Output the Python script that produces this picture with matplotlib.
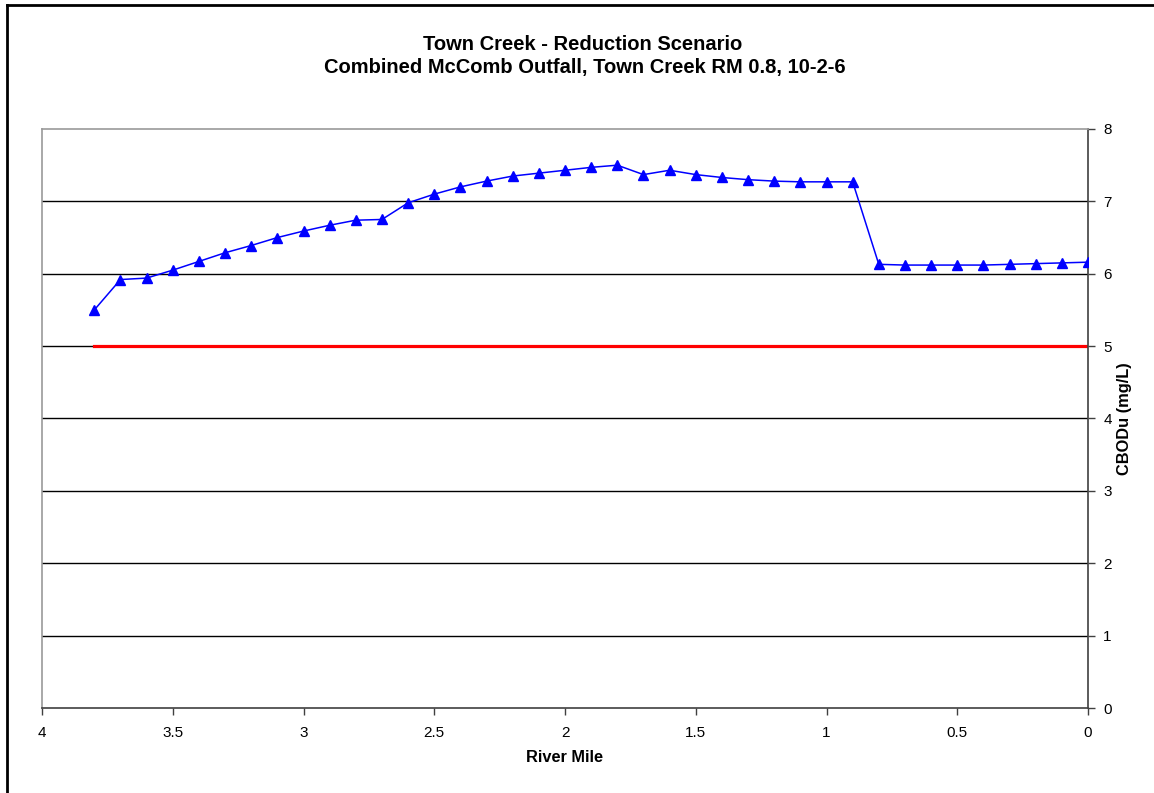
import matplotlib
matplotlib.use("Agg")
import matplotlib.pyplot as plt
from matplotlib.lines import Line2D

plt.rcParams['font.family'] = ['Liberation Sans', 'DejaVu Sans']

# river mile and modelled CBODu (mg/L)
river_mile = [3.8, 3.7, 3.6, 3.5, 3.4, 3.3, 3.2, 3.1, 3.0, 2.9, 2.8, 2.7,
              2.6, 2.5, 2.4, 2.3, 2.2, 2.1, 2.0, 1.9, 1.8, 1.7, 1.6, 1.5,
              1.4, 1.3, 1.2, 1.1, 1.0, 0.9, 0.8, 0.7, 0.6, 0.5, 0.4, 0.3,
              0.2, 0.1, 0.0]
cbodu = [5.50, 5.92, 5.94, 6.05, 6.17, 6.29, 6.39, 6.50, 6.59, 6.67, 6.74, 6.75,
         6.98, 7.10, 7.20, 7.28, 7.35, 7.39, 7.43, 7.47, 7.50, 7.37, 7.43, 7.37,
         7.33, 7.30, 7.28, 7.27, 7.27, 7.27, 6.13, 6.12, 6.12, 6.12, 6.12, 6.13,
         6.14, 6.15, 6.16]

# standard line
std_x = [3.8, 0.0]
std_y = [5, 5]

x_ticks = [4, 3.5, 3, 2.5, 2, 1.5, 1, 0.5, 0]
x_labels = ['4', '3.5', '3', '2.5', '2', '1.5', '1', '0.5', '0']
y_ticks = [0, 1, 2, 3, 4, 5, 6, 7, 8]

fig = plt.figure(figsize=(11.54, 7.93), dpi=100)
ax = fig.add_axes([42 / 1154, 1 - 708 / 793, (1088 - 42) / 1154, (708 - 129) / 793])

for y in y_ticks[1:-1]:
    ax.axhline(y, color='black', linewidth=1, zorder=1)

ax.plot(std_x, std_y, color='#ff0000', linewidth=2.3, zorder=2)
ax.plot(river_mile, cbodu, color='#0000ff', linewidth=1.1, marker='^',
        markersize=7, markerfacecolor='#0000ff', markeredgecolor='#0000ff', zorder=3)

ax.set_xlim(4, 0)
ax.set_ylim(0, 8)
ax.set_xticks(x_ticks)
ax.set_xticklabels(x_labels)
ax.set_yticks(y_ticks)
ax.yaxis.tick_right()
ax.yaxis.set_label_position('right')
ax.tick_params(axis='both', labelsize=11, direction='out', length=5, width=1,
               colors='#404040', labelcolor='black')
ax.tick_params(axis='x', pad=8)
ax.tick_params(axis='y', pad=6)

ax.spines['left'].set_color('#999999')
ax.spines['top'].set_color('#999999')
ax.spines['bottom'].set_color('#404040')
ax.spines['right'].set_color('#404040')
for s in ax.spines.values():
    s.set_linewidth(1.2)

ax.set_xlabel('River Mile', fontsize=11.8, fontweight='bold', labelpad=7)
ax.set_ylabel('CBODu (mg/L)', fontsize=11.8, fontweight='bold', labelpad=4)

fig.text(583 / 1154, 1 - 45 / 793, 'Town Creek - Reduction Scenario',
         ha='center', va='center', fontsize=14.5, fontweight='bold')
fig.text(585 / 1154, 1 - 67 / 793, 'Combined McComb Outfall, Town Creek RM 0.8, 10-2-6',
         ha='center', va='center', fontsize=14.5, fontweight='bold')

# outer chart border
fig.add_artist(Line2D([7 / 1154, 7 / 1154], [0, 1 - 5 / 793], transform=fig.transFigure,
                      color='black', linewidth=2))
fig.add_artist(Line2D([7 / 1154, 1], [1 - 5 / 793, 1 - 5 / 793], transform=fig.transFigure,
                      color='black', linewidth=2))

fig.savefig('out.png', dpi=100)
